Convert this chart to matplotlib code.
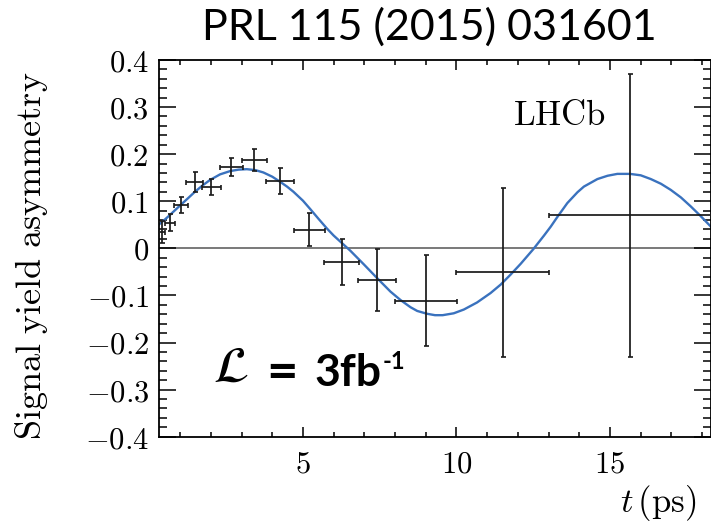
import matplotlib
matplotlib.use('Agg')
import matplotlib.pyplot as plt
from matplotlib.ticker import MultipleLocator
import numpy as np

# ---- data ----
t_center = [0.42, 0.68, 1.02, 1.47, 2.01, 2.65, 3.41, 4.25, 5.21, 6.26, 7.41, 9.01, 11.51, 15.65]
t_lo     = [0.30, 0.50, 0.80, 1.20, 1.70, 2.30, 3.00, 3.80, 4.70, 5.70, 6.80, 8.00, 10.00, 13.00]
t_hi     = [0.50, 0.83, 1.25, 1.75, 2.32, 3.03, 3.82, 4.72, 5.72, 6.84, 8.02, 10.02, 13.01, 18.60]
asym     = [0.034, 0.054, 0.092, 0.140, 0.131, 0.172, 0.187, 0.143, 0.039, -0.029, -0.067, -0.111, -0.051, 0.070]
asym_err = [0.023, 0.018, 0.017, 0.021, 0.017, 0.019, 0.023, 0.028, 0.035, 0.049, 0.066, 0.096, 0.180, 0.300]

fit_t    = [0.30, 0.50, 0.67, 0.85, 1.03, 1.25, 1.48, 1.72, 1.97, 2.30, 2.63, 2.90, 3.17, 3.45, 3.71,
            4.00, 4.26, 4.48, 4.69, 5.00, 5.24, 5.50, 5.78, 6.00, 6.27, 6.54, 6.98, 7.41, 7.85, 8.18,
            8.50, 8.72, 9.04, 9.30, 9.55, 9.91, 10.24, 10.67, 11.11, 11.44, 11.76, 12.09, 12.50, 12.85,
            13.07, 13.28, 13.61, 13.94, 14.15, 14.59, 14.92, 15.24, 15.65, 16.00, 16.33, 16.66, 16.98,
            17.31, 17.63, 17.96, 18.30]
fit_asym = [0.050, 0.061, 0.071, 0.082, 0.093, 0.106, 0.120, 0.133, 0.145, 0.157, 0.164, 0.167, 0.168, 0.166, 0.161,
            0.152, 0.141, 0.131, 0.120, 0.101, 0.083, 0.063, 0.042, 0.027, 0.011, -0.005, -0.034, -0.063, -0.092, -0.110,
            -0.125, -0.133, -0.139, -0.142, -0.142, -0.138, -0.130, -0.115, -0.095, -0.077, -0.056, -0.033, -0.002, 0.027,
            0.046, 0.066, 0.096, 0.119, 0.131, 0.147, 0.154, 0.158, 0.158, 0.155, 0.147, 0.137, 0.124,
            0.108, 0.089, 0.068, 0.045]

x_ticks = [5, 10, 15]
x_ticklabels = ['$5$', '$10$', '$15$']
y_ticks = [-0.4, -0.3, -0.2, -0.1, 0.0, 0.1, 0.2, 0.3, 0.4]
y_ticklabels = ['$-0.4$', '$-0.3$', '$-0.2$', '$-0.1$', '$0$', '$0.1$', '$0.2$', '$0.3$', '$0.4$']

title_text = 'PRL 115 (2015) 031601'
exp_text = r'$\mathrm{LHCb}$'
ylabel_text = r'$\mathrm{Signal\ yield\ asymmetry}$'
xlabel_text = r'$t\,\mathrm{(ps)}$'

plt.rcParams['mathtext.fontset'] = 'cm'

W, H = 711, 524
fig = plt.figure(figsize=(W / 100, H / 100), dpi=100)

def fx(x):
    return x / W

def fy(y):
    return 1 - y / H

L, R, B, T = 158.7, 711.3, 436.7, 59.9
ax = fig.add_axes([L / W, 1 - B / H, (R - L) / W, (B - T) / H])
ax.set_xlim(0.3, 18.3)
ax.set_ylim(-0.4, 0.4)

ax.axhline(0, color='#555555', lw=1.1, zorder=1)
ax.plot(fit_t, fit_asym, color='#3a72be', lw=1.7, zorder=2,
        solid_joinstyle='round', solid_capstyle='round')
xerr = [np.subtract(t_center, t_lo), np.subtract(t_hi, t_center)]
ax.errorbar(t_center, asym, xerr=xerr, yerr=asym_err, fmt='none', ecolor='#1a1a1a',
            elinewidth=1.25, capsize=1.8, capthick=1.2, zorder=3)

ax.set_xticks(x_ticks)
ax.set_xticklabels(x_ticklabels)
ax.set_yticks(y_ticks)
ax.set_yticklabels(y_ticklabels)
ax.xaxis.set_minor_locator(MultipleLocator(1))
ax.yaxis.set_minor_locator(MultipleLocator(0.02))
ax.tick_params(which='both', direction='in', top=True, right=True, width=1.1, color='black')
ax.tick_params(axis='x', which='major', length=7.5, labelsize=22, pad=9)
ax.tick_params(axis='x', which='minor', length=3.8)
ax.tick_params(axis='y', which='major', length=12, labelsize=22, pad=7)
ax.tick_params(axis='y', which='minor', length=6)
for s in ax.spines.values():
    s.set_linewidth(1.3)

fig.text(fx(513), fy(115), exp_text, fontsize=25, ha='left', va='center')
fig.text(fx(32), fy(256), ylabel_text, fontsize=26, rotation=90, ha='center', va='center')
fig.text(fx(696), fy(503), xlabel_text, fontsize=25, ha='right', va='center')

fig.text(fx(429), fy(27), title_text, fontsize=31, family='Lato', ha='center', va='center')

fig.text(fx(213), fy(368), r'$\mathcal{L}$', fontsize=37, math_fontfamily='stix', ha='left', va='center')
fig.text(fx(266), fy(373), '=', fontsize=39, family='Lato', fontweight='bold', ha='left', va='center')
main = fig.text(fx(314), fy(386), '3fb', fontsize=32, family='Lato', fontweight='bold',
                ha='left', va='baseline')
fig.canvas.draw()
bb = main.get_window_extent(fig.canvas.get_renderer())
fig.text((bb.x1 + 2) / W, fy(369), '-1', fontsize=17, family='Lato', fontweight='bold',
         ha='left', va='baseline')

fig.savefig('out.png', dpi=100)
